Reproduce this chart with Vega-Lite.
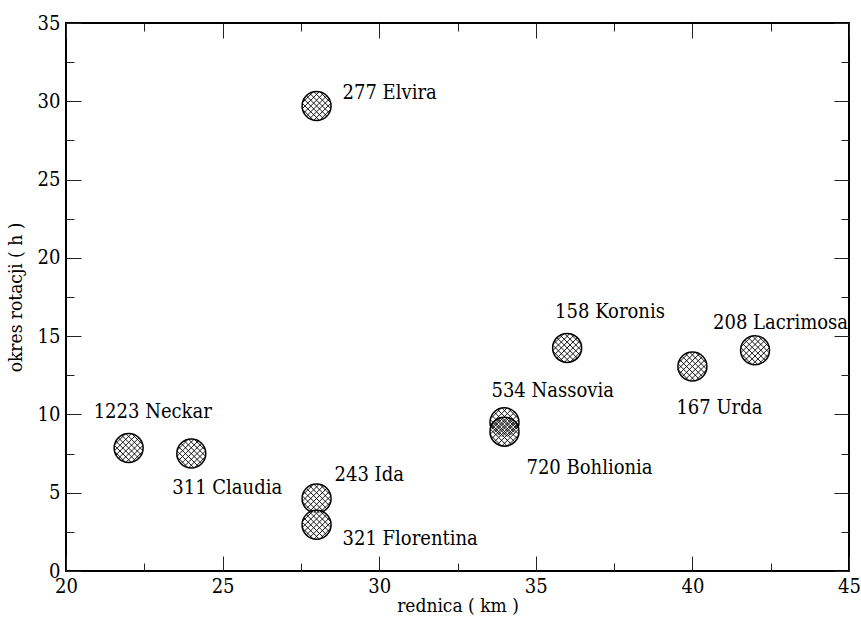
{
  "$schema": "https://vega.github.io/schema/vega-lite/v6.json",
  "width": 783,
  "height": 548,
  "autosize": {"type": "none"},
  "padding": {"left": 66, "top": 23, "right": 12, "bottom": 48},
  "background": "white",
  "config": {
    "view": {"stroke": "black", "strokeWidth": 2},
    "text": {"font": "DejaVu Serif Condensed, DejaVu Serif", "fontSize": 20, "color": "black"},
    "axis": {
      "grid": false,
      "domain": false,
      "tickColor": "#222",
      "tickWidth": 1,
      "labelFont": "DejaVu Serif Condensed, DejaVu Serif",
      "labelFontSize": 20,
      "labelColor": "black",
      "labelFlush": false,
      "labelOverlap": false,
      "titleFont": "DejaVu Serif Condensed, DejaVu Serif",
      "titleFontSize": 19,
      "titleFontWeight": "normal",
      "titleColor": "black"
    }
  },
  "data": {
    "values": [
      {"name": "Elvira", "label": "277 Elvira", "diameter": 28, "period": 29.7},
      {"name": "Koronis", "label": "158 Koronis", "diameter": 36, "period": 14.25},
      {"name": "Lacrimosa", "label": "208 Lacrimosa", "diameter": 42, "period": 14.1},
      {"name": "Urda", "label": "167 Urda", "diameter": 40, "period": 13.06},
      {"name": "Nassovia", "label": "534 Nassovia", "diameter": 34, "period": 9.5},
      {"name": "Bohlionia", "label": "720 Bohlionia", "diameter": 34, "period": 8.9},
      {"name": "Neckar", "label": "1223 Neckar", "diameter": 22, "period": 7.85},
      {"name": "Claudia", "label": "311 Claudia", "diameter": 24, "period": 7.5},
      {"name": "Ida", "label": "243 Ida", "diameter": 28, "period": 4.63},
      {"name": "Florentina", "label": "321 Florentina", "diameter": 28, "period": 2.95}
    ]
  },
  "resolve": {"axis": {"x": "independent", "y": "independent"}},
  "layer": [
    {
      "mark": {"type": "point", "shape": "circle", "size": 841, "filled": true, "fill": "white", "stroke": "black", "strokeWidth": 1.5, "opacity": 1},
      "encoding": {
        "x": {"field": "diameter", "type": "quantitative", "scale": {"domain": [20, 45], "nice": false, "zero": false},
          "axis": {"orient": "bottom", "values": [20, 25, 30, 35, 40, 45], "tickSize": -15, "labelPadding": 20, "title": "rednica ( km )", "titlePadding": 0}},
        "y": {"field": "period", "type": "quantitative", "scale": {"domain": [0, 35], "nice": false, "zero": false},
          "axis": {"orient": "left", "values": [0, 5, 10, 15, 20, 25, 30, 35], "tickSize": -15, "labelPadding": 21, "title": "okres rotacji ( h )", "titlePadding": 12}}
      }
    },
    {
      "mark": {"type": "point", "shape": "M0.7071,-0.7071L-0.7071,0.7071M0.8782,-0.4782L-0.4782,0.8782M0.4782,-0.8782L-0.8782,0.4782M0.9831,-0.1831L-0.1831,0.9831M0.1831,-0.9831L-0.9831,0.1831M0.9742,0.2258L0.2258,0.9742M-0.2258,-0.9742L-0.9742,-0.2258M-0.7071,-0.7071L0.7071,0.7071M-0.8782,-0.4782L0.4782,0.8782M-0.4782,-0.8782L0.8782,0.4782M-0.9831,-0.1831L0.1831,0.9831M-0.1831,-0.9831L0.9831,0.1831M-0.9742,0.2258L-0.2258,0.9742M0.2258,-0.9742L0.9742,-0.2258", "size": 841, "filled": false, "stroke": "black", "strokeWidth": 0.9, "opacity": 1},
      "encoding": {
        "x": {"field": "diameter", "type": "quantitative", "scale": {"domain": [20, 45], "nice": false, "zero": false},
          "axis": {"orient": "bottom", "values": [22.5, 27.5, 32.5, 37.5, 42.5], "tickSize": -8, "labels": false, "title": null}},
        "y": {"field": "period", "type": "quantitative", "scale": {"domain": [0, 35], "nice": false, "zero": false},
          "axis": {"orient": "left", "values": [2.5, 7.5, 12.5, 17.5, 22.5, 27.5, 32.5], "tickSize": -8, "labels": false, "title": null}}
      }
    },
    {
      "mark": {"type": "point", "opacity": 0},
      "encoding": {
        "x": {"field": "diameter", "type": "quantitative", "scale": {"domain": [20, 45], "nice": false, "zero": false},
          "axis": {"orient": "top", "values": [20, 25, 30, 35, 40, 45], "tickSize": -15, "labels": false, "title": null}},
        "y": {"field": "period", "type": "quantitative", "scale": {"domain": [0, 35], "nice": false, "zero": false},
          "axis": {"orient": "right", "values": [0, 5, 10, 15, 20, 25, 30, 35], "tickSize": -15, "labels": false, "title": null}}
      }
    },
    {
      "mark": {"type": "point", "opacity": 0},
      "encoding": {
        "x": {"field": "diameter", "type": "quantitative", "scale": {"domain": [20, 45], "nice": false, "zero": false},
          "axis": {"orient": "top", "values": [22.5, 27.5, 32.5, 37.5, 42.5], "tickSize": -8, "labels": false, "title": null}},
        "y": {"field": "period", "type": "quantitative", "scale": {"domain": [0, 35], "nice": false, "zero": false},
          "axis": {"orient": "right", "values": [2.5, 7.5, 12.5, 17.5, 22.5, 27.5, 32.5], "tickSize": -8, "labels": false, "title": null}}
      }
    },
    {
      "transform": [{"filter": "datum.name == 'Elvira'"}],
      "mark": {"type": "text", "align": "left", "baseline": "alphabetic", "dx": 26, "dy": -7},
      "encoding": {
        "x": {"field": "diameter", "type": "quantitative", "scale": {"domain": [20, 45], "nice": false, "zero": false}, "axis": null},
        "y": {"field": "period", "type": "quantitative", "scale": {"domain": [0, 35], "nice": false, "zero": false}, "axis": null},
        "text": {"field": "label"}
      }
    },
    {
      "transform": [{"filter": "datum.name == 'Koronis'"}],
      "mark": {"type": "text", "align": "left", "baseline": "alphabetic", "dx": -12, "dy": -30},
      "encoding": {
        "x": {"field": "diameter", "type": "quantitative", "scale": {"domain": [20, 45], "nice": false, "zero": false}, "axis": null},
        "y": {"field": "period", "type": "quantitative", "scale": {"domain": [0, 35], "nice": false, "zero": false}, "axis": null},
        "text": {"field": "label"}
      }
    },
    {
      "transform": [{"filter": "datum.name == 'Lacrimosa'"}],
      "mark": {"type": "text", "align": "left", "baseline": "alphabetic", "dx": -42, "dy": -21},
      "encoding": {
        "x": {"field": "diameter", "type": "quantitative", "scale": {"domain": [20, 45], "nice": false, "zero": false}, "axis": null},
        "y": {"field": "period", "type": "quantitative", "scale": {"domain": [0, 35], "nice": false, "zero": false}, "axis": null},
        "text": {"field": "label"}
      }
    },
    {
      "transform": [{"filter": "datum.name == 'Urda'"}],
      "mark": {"type": "text", "align": "left", "baseline": "alphabetic", "dx": -16, "dy": 47},
      "encoding": {
        "x": {"field": "diameter", "type": "quantitative", "scale": {"domain": [20, 45], "nice": false, "zero": false}, "axis": null},
        "y": {"field": "period", "type": "quantitative", "scale": {"domain": [0, 35], "nice": false, "zero": false}, "axis": null},
        "text": {"field": "label"}
      }
    },
    {
      "transform": [{"filter": "datum.name == 'Nassovia'"}],
      "mark": {"type": "text", "align": "left", "baseline": "alphabetic", "dx": -13, "dy": -25},
      "encoding": {
        "x": {"field": "diameter", "type": "quantitative", "scale": {"domain": [20, 45], "nice": false, "zero": false}, "axis": null},
        "y": {"field": "period", "type": "quantitative", "scale": {"domain": [0, 35], "nice": false, "zero": false}, "axis": null},
        "text": {"field": "label"}
      }
    },
    {
      "transform": [{"filter": "datum.name == 'Bohlionia'"}],
      "mark": {"type": "text", "align": "left", "baseline": "alphabetic", "dx": 22, "dy": 42},
      "encoding": {
        "x": {"field": "diameter", "type": "quantitative", "scale": {"domain": [20, 45], "nice": false, "zero": false}, "axis": null},
        "y": {"field": "period", "type": "quantitative", "scale": {"domain": [0, 35], "nice": false, "zero": false}, "axis": null},
        "text": {"field": "label"}
      }
    },
    {
      "transform": [{"filter": "datum.name == 'Neckar'"}],
      "mark": {"type": "text", "align": "left", "baseline": "alphabetic", "dx": -35, "dy": -30},
      "encoding": {
        "x": {"field": "diameter", "type": "quantitative", "scale": {"domain": [20, 45], "nice": false, "zero": false}, "axis": null},
        "y": {"field": "period", "type": "quantitative", "scale": {"domain": [0, 35], "nice": false, "zero": false}, "axis": null},
        "text": {"field": "label"}
      }
    },
    {
      "transform": [{"filter": "datum.name == 'Claudia'"}],
      "mark": {"type": "text", "align": "left", "baseline": "alphabetic", "dx": -19, "dy": 40},
      "encoding": {
        "x": {"field": "diameter", "type": "quantitative", "scale": {"domain": [20, 45], "nice": false, "zero": false}, "axis": null},
        "y": {"field": "period", "type": "quantitative", "scale": {"domain": [0, 35], "nice": false, "zero": false}, "axis": null},
        "text": {"field": "label"}
      }
    },
    {
      "transform": [{"filter": "datum.name == 'Ida'"}],
      "mark": {"type": "text", "align": "left", "baseline": "alphabetic", "dx": 18, "dy": -18},
      "encoding": {
        "x": {"field": "diameter", "type": "quantitative", "scale": {"domain": [20, 45], "nice": false, "zero": false}, "axis": null},
        "y": {"field": "period", "type": "quantitative", "scale": {"domain": [0, 35], "nice": false, "zero": false}, "axis": null},
        "text": {"field": "label"}
      }
    },
    {
      "transform": [{"filter": "datum.name == 'Florentina'"}],
      "mark": {"type": "text", "align": "left", "baseline": "alphabetic", "dx": 26, "dy": 20},
      "encoding": {
        "x": {"field": "diameter", "type": "quantitative", "scale": {"domain": [20, 45], "nice": false, "zero": false}, "axis": null},
        "y": {"field": "period", "type": "quantitative", "scale": {"domain": [0, 35], "nice": false, "zero": false}, "axis": null},
        "text": {"field": "label"}
      }
    }
  ]
}
